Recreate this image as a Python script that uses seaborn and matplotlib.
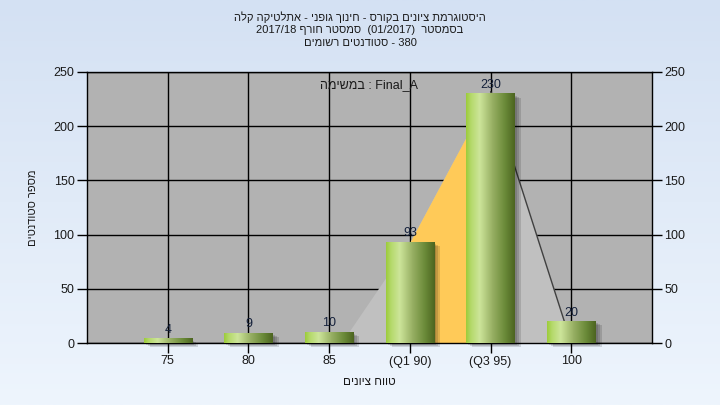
import re
import numpy as np
import pandas as pd
import seaborn as sns
import matplotlib.pyplot as plt
import matplotlib.transforms as mtransforms
from matplotlib.colors import LinearSegmentedColormap
from matplotlib.patches import Rectangle

# data
ranges = ['75', '80', '85', '(Q1 90)', '(Q3 95)', '100']
counts = [4, 9, 10, 93, 230, 20]

# triangle shape drawn behind the bars (category index, students)
tri_pos = [2.15, 3, 4, 5]
tri_vals = [0, 93, 232, 0]
iqr_pos = [3, 4]          # the orange part between Q1 and Q3
iqr_vals = [93, 232]

title_1 = 'היסטוגרמת ציונים בקורס - חינוך גופני - אתלטיקה קלה'
title_2 = 'בסמסטר  (01/2017)  סמסטר חורף 2017/18'
title_3 = 'סטודנטים רשומים'
n_students = 380
task_name = 'Final_A'


def heb(s):
    # matplotlib does no bidi, so flip the hebrew by hand and keep numbers/latin as they are
    out = s[::-1]
    out = re.sub(r'[0-9A-Za-z_/.]+', lambda m: m.group(0)[::-1], out)
    return out.translate(str.maketrans('()', ')('))


sns.set_style('ticks')
plt.rcParams['font.family'] = ['Liberation Sans', 'DejaVu Sans']
txt_col = '#1a1a1a'

fig = plt.figure(figsize=(7.2, 4.05), dpi=100)

# light blue gradient behind everything
bg = fig.add_axes([0, 0, 1, 1], zorder=-10)
grad = np.linspace(0, 1, 256).reshape(-1, 1)
bg_cmap = LinearSegmentedColormap.from_list('bg', ['#d4e1f3', '#eef5fd'])
bg.imshow(grad, cmap=bg_cmap, aspect='auto', extent=[0, 1, 0, 1])
bg.set_axis_off()

ax = fig.add_axes([87 / 720, 1 - 343 / 405, 565 / 720, 271 / 405])
ax.set_facecolor('#b2b2b2')

df = pd.DataFrame({'range': ranges, 'count': counts})
sns.barplot(data=df, x='range', y='count', order=ranges, width=0.6,
            color='#9bc83c', linewidth=0, edgecolor='none', ax=ax, zorder=3)

# triangle + orange IQR band
ax.fill_between(tri_pos, tri_vals, color='#c0c0c0', zorder=1, lw=0)
ax.fill_between(iqr_pos, iqr_vals, color='#ffca58', zorder=1.5, lw=0)
ax.plot(tri_pos[2:], tri_vals[2:], color='#404040', lw=1, zorder=2)

# green cylinder look + soft shadow for each bar
bar_cmap = LinearSegmentedColormap.from_list(
    'bar', [(0, '#9ccb3a'), (0.1, '#b4d96a'), (0.28, '#cde59a'),
            (0.55, '#96ae62'), (0.8, '#6a8a38'), (1, '#4c6420')])
hgrad = np.linspace(0, 1, 256).reshape(1, -1)
for p in ax.patches:
    x0, y0 = p.get_x(), p.get_y()
    w, h = p.get_width(), p.get_height()
    for dx, dy in [(2, -2), (4, -3), (6, -4)]:
        tr = mtransforms.offset_copy(ax.transData, fig=fig, x=dx, y=dy, units='dots')
        ax.add_patch(Rectangle((x0, y0), w, h, transform=tr, color='black',
                               alpha=0.13, lw=0, zorder=2.5, clip_on=False))
    ax.imshow(hgrad, cmap=bar_cmap, aspect='auto', extent=[x0, x0 + w, y0, y0 + h],
              zorder=3.2)
    ax.annotate(str(int(round(h))), (x0 + w / 2, h), xytext=(0, 2),
                textcoords='offset points', ha='center', va='bottom',
                fontsize=9, color='#14203a', zorder=5)

ax.set_xlim(-1, 6)
ax.set_ylim(0, 250)
ax.set_yticks(range(0, 251, 50))
ax.grid(True, color='black', lw=1)
ax.set_axisbelow(True)
for s in ax.spines.values():
    s.set_visible(True)
    s.set_color('black')
    s.set_linewidth(1)

ax.tick_params(direction='out', length=7, width=1, color='black', labelsize=9,
               labelcolor=txt_col, right=True, labelright=True, pad=2)

ax.set_xlabel(heb('טווח ציונים'), fontsize=8.5, color=txt_col, labelpad=6)
ax.set_ylabel(heb('מספר סטודנטים'), fontsize=8, color=txt_col, labelpad=11)

ax.text(0.5, 0.952, heb('במשימה') + ' : ' + task_name, transform=ax.transAxes,
        ha='center', va='center', fontsize=9, color=txt_col, zorder=6)

fig.text(0.5, 1 - 17 / 405, heb(title_1), ha='center', va='center', fontsize=8, color=txt_col)
fig.text(0.5, 1 - 30 / 405, heb(title_2), ha='center', va='center', fontsize=8, color=txt_col)
fig.text(0.5, 1 - 43 / 405, heb(title_3) + ' - ' + str(n_students), ha='center', va='center',
         fontsize=8, color=txt_col)

fig.savefig('out.png', dpi=100)
